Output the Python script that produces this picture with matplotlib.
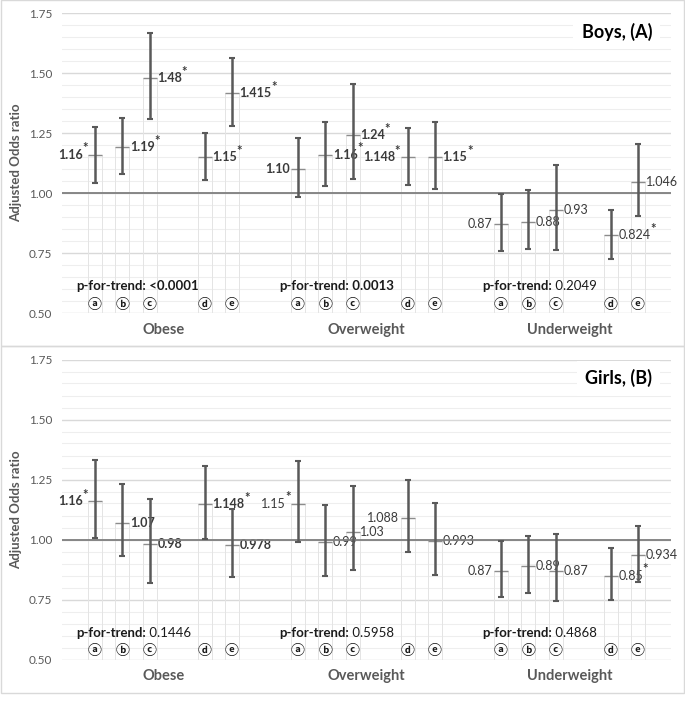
# Adjusted odds ratios with 95% CI for boys (A) and girls (B), two stacked panels.
# Output: out.png

import matplotlib
matplotlib.use("Agg")
import matplotlib.pyplot as plt
from matplotlib.patches import Rectangle
from matplotlib.ticker import MultipleLocator, FormatStrFormatter

plt.rcParams["font.family"] = ["Lato", "DejaVu Sans"]

GROUPS = ["Obese", "Overweight", "Underweight"]
LETTERS = ["\u24d0", "\u24d1", "\u24d2", "\u24d3", "\u24d4"]
SLOTS = [0, 1, 2, 4, 5]  # six slots per group, the fourth one is empty

# Boys (A): odds ratio, lower and upper CI limits, per group a..e
BOYS_OR = [[1.16, 1.19, 1.48, 1.15, 1.415],
           [1.10, 1.16, 1.24, 1.148, 1.15],
           [0.87, 0.88, 0.93, 0.824, 1.046]]
BOYS_LO = [[1.043, 1.078, 1.308, 1.055, 1.279],
           [0.984, 1.030, 1.059, 1.034, 1.016],
           [0.758, 0.765, 0.762, 0.723, 0.903]]
BOYS_HI = [[1.276, 1.311, 1.666, 1.249, 1.562],
           [1.230, 1.296, 1.453, 1.269, 1.296],
           [0.996, 1.013, 1.117, 0.929, 1.204]]
BOYS_TXT = [["1.16", "1.19", "1.48", "1.15", "1.415"],
            ["1.10", "1.16", "1.24", "1.148", "1.15"],
            ["0.87", "0.88", "0.93", "0.824", "1.046"]]
BOYS_STAR = [[1, 1, 1, 1, 1],
             [0, 1, 1, 1, 1],
             [0, 0, 0, 1, 0]]
BOYS_P = ["<0.0001", "0.0013", "0.2049"]
BOYS_P_BOLD = [True, True, False]

# Girls (B)
GIRLS_OR = [[1.16, 1.07, 0.98, 1.148, 0.978],
            [1.15, 0.99, 1.03, 1.088, 0.993],
            [0.87, 0.89, 0.87, 0.85, 0.934]]
GIRLS_LO = [[1.007, 0.933, 0.818, 1.004, 0.844],
            [0.990, 0.849, 0.871, 0.946, 0.851],
            [0.760, 0.776, 0.743, 0.747, 0.821]]
GIRLS_HI = [[1.333, 1.231, 1.169, 1.308, 1.129],
            [1.329, 1.143, 1.222, 1.249, 1.154],
            [0.994, 1.013, 1.022, 0.963, 1.058]]
GIRLS_TXT = [["1.16", "1.07", "0.98", "1.148", "0.978"],
             ["1.15", "0.99", "1.03", "1.088", "0.993"],
             ["0.87", "0.89", "0.87", "0.85", "0.934"]]
GIRLS_STAR = [[1, 0, 0, 1, 0],
              [1, 0, 0, 0, 0],
              [0, 0, 0, 1, 0]]
GIRLS_P = ["0.1446", "0.5958", "0.4868"]
GIRLS_P_BOLD = [False, False, False]

# label on the left of the bar for these (group, item)
LEFT_LABELS = {(0, 0), (1, 0), (1, 3), (2, 0)}

SLOT_W = 0.135
BAR_W = 0.068
DARK = "#3a3a3a"
GRAY = "#595959"


def value_label(ax, x, y, text, star, left, weight):
    kw = dict(fontsize=9, color=DARK, fontweight=weight, va="center")
    star_kw = dict(fontsize=9.5, color=DARK, fontweight="bold", va="center")
    if left:
        x0 = x - BAR_W / 2
        shift = -4 if star else -1
        ax.annotate(text, (x0, y), xytext=(shift, 0), textcoords="offset points",
                    ha="right", **kw)
        if star:
            ax.annotate("*", (x0, y), xytext=(-0.3, 4.5), textcoords="offset points",
                        ha="right", **star_kw)
    else:
        t = ax.annotate(text, (x + BAR_W / 2, y), xytext=(0.5, 0), textcoords="offset points",
                        ha="left", **kw)
        if star:
            ax.annotate("*", xy=(1, 0.5), xycoords=t, xytext=(-0.3, 4.5),
                        textcoords="offset points", ha="left", **star_kw)


def draw_panel(ax, ors, los, his, txt, stars, pvals, pbold, title, bold_groups):
    for g in range(len(GROUPS)):
        for k in range(len(LETTERS)):
            x = g + (SLOTS[k] - 2.5) * SLOT_W
            m = ors[g][k]
            ax.bar(x, m - 0.5, bottom=0.5, width=BAR_W, fill=False,
                   edgecolor="#e4e4e4", linewidth=0.7, zorder=2)
            ax.hlines(m, x - BAR_W / 2, x + BAR_W / 2, color="#8c8c8c", lw=1.0, zorder=3)
            ax.errorbar(x, m, yerr=[[m - los[g][k]], [his[g][k] - m]], fmt="none",
                        ecolor=GRAY, elinewidth=1.8, capsize=2.3, capthick=1.5, zorder=4)
            weight = "bold" if g in bold_groups else "normal"
            value_label(ax, x, m, txt[g][k], stars[g][k], (g, k) in LEFT_LABELS, weight)
            ax.text(x, 0.535, LETTERS[k], ha="center", va="center", fontsize=10,
                    fontweight="bold", family=["DejaVu Sans", "Noto Sans CJK SC"],
                    color="#1a1a1a", zorder=5)

        t = ax.text(g - 0.43, 0.611, "p-for-trend:", fontsize=9.5, fontweight="bold",
                    color="#1a1a1a", ha="left", va="center")
        ax.annotate(" " + pvals[g], xy=(1, 0.5), xycoords=t, ha="left", va="center",
                    fontsize=9.5, color="#1a1a1a",
                    fontweight="bold" if pbold[g] else "normal")

    ax.axhline(1.0, color="#7f7f7f", lw=1.3, zorder=3)

    ax.set_xlim(-0.5, 2.5)
    ax.set_ylim(0.5, 1.75)
    ax.yaxis.set_major_locator(MultipleLocator(0.25))
    ax.yaxis.set_minor_locator(MultipleLocator(0.05))
    ax.yaxis.set_major_formatter(FormatStrFormatter("%.2f"))
    ax.set_axisbelow(True)
    ax.grid(True, which="major", axis="y", color="#d9d9d9", lw=1.0)
    ax.grid(True, which="minor", axis="y", color="#eeeeee", lw=0.8)
    for s in ax.spines.values():
        s.set_visible(False)

    ax.set_xticks(range(len(GROUPS)), GROUPS)
    ax.tick_params(axis="x", length=0, pad=7, labelsize=10.5, labelcolor=GRAY)
    for lab in ax.get_xticklabels():
        lab.set_fontweight("bold")
    ax.tick_params(axis="y", which="both", length=0, pad=7, labelsize=8.5, labelcolor=GRAY)

    ax.set_ylabel("Adjusted Odds ratio", fontsize=9.5, fontweight="bold", color=GRAY)
    ax.yaxis.set_label_coords(-0.066, 0.5)

    ax.text(0.969, 0.937, title, transform=ax.transAxes, ha="right", va="center",
            fontsize=13, fontweight="bold", color="#000000", zorder=6,
            bbox=dict(facecolor="white", edgecolor="none", pad=6))


def main():
    W, H = 685, 703
    fig = plt.figure(figsize=(W / 100, H / 100), dpi=100)

    # panel frames (pixel values converted to figure fractions)
    for top, bottom in [(0.5, 346), (346, 692.5)]:
        fig.add_artist(Rectangle((0.5 / W, 1 - bottom / H), (W - 1.5) / W, (bottom - top) / H,
                                 transform=fig.transFigure, fill=False,
                                 edgecolor="#d9d9d9", linewidth=1.0))

    ax1 = fig.add_axes([62 / W, (H - 313) / H, 609 / W, 300 / H])
    ax2 = fig.add_axes([62 / W, (H - 659.5) / H, 609 / W, 300 / H])

    draw_panel(ax1, BOYS_OR, BOYS_LO, BOYS_HI, BOYS_TXT, BOYS_STAR,
               BOYS_P, BOYS_P_BOLD, "Boys, (A)", bold_groups={0, 1})
    draw_panel(ax2, GIRLS_OR, GIRLS_LO, GIRLS_HI, GIRLS_TXT, GIRLS_STAR,
               GIRLS_P, GIRLS_P_BOLD, "Girls, (B)", bold_groups={0})

    fig.savefig("out.png", dpi=100)


if __name__ == "__main__":
    main()
